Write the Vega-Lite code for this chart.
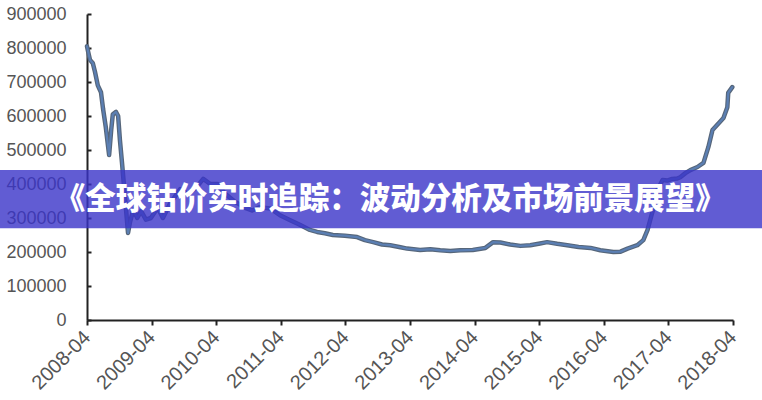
{
  "$schema": "https://vega.github.io/schema/vega-lite/v6.json",
  "width": 646,
  "height": 306,
  "autosize": {"type": "none"},
  "padding": {"left": 87, "top": 14, "right": 29, "bottom": 80},
  "background": "white",
  "config": {
    "view": {"stroke": null},
    "axisX": {
      "title": null,
      "format": "%Y-%m",
      "labelAngle": -45,
      "labelAlign": "right",
      "labelBaseline": "middle",
      "labelFont": "Liberation Sans",
      "labelFontSize": 20,
      "labelColor": "#555555",
      "labelPadding": 9,
      "domainColor": "#222222",
      "domainWidth": 2,
      "tickColor": "#222222",
      "tickWidth": 2,
      "tickSize": 5,
      "grid": false,
      "labelFlush": false,
      "labelOverlap": false
    },
    "axisY": {
      "title": null,
      "format": "d",
      "labelFont": "Liberation Sans",
      "labelFontSize": 18,
      "labelColor": "#555555",
      "labelPadding": 25,
      "labelOverlap": false,
      "domainColor": "#222222",
      "domainWidth": 2,
      "tickColor": "#222222",
      "tickWidth": 2,
      "tickSize": -4,
      "grid": false
    }
  },
  "layer": [
    {
      "data": {"name": "prices", "values": [
        {"date": "2008-04-01", "price": 805000},
        {"date": "2008-04-07", "price": 790000},
        {"date": "2008-04-18", "price": 765000},
        {"date": "2008-05-04", "price": 755000},
        {"date": "2008-05-16", "price": 730000},
        {"date": "2008-06-01", "price": 690000},
        {"date": "2008-06-19", "price": 670000},
        {"date": "2008-07-01", "price": 620000},
        {"date": "2008-07-16", "price": 568000},
        {"date": "2008-08-04", "price": 485000},
        {"date": "2008-08-16", "price": 560000},
        {"date": "2008-08-25", "price": 605000},
        {"date": "2008-09-12", "price": 612000},
        {"date": "2008-09-24", "price": 600000},
        {"date": "2008-10-04", "price": 530000},
        {"date": "2008-10-16", "price": 462000},
        {"date": "2008-11-03", "price": 353000},
        {"date": "2008-11-19", "price": 256000},
        {"date": "2008-12-01", "price": 290000},
        {"date": "2008-12-19", "price": 324000},
        {"date": "2009-01-10", "price": 300000},
        {"date": "2009-02-01", "price": 320000},
        {"date": "2009-02-28", "price": 295000},
        {"date": "2009-03-28", "price": 300000},
        {"date": "2009-05-06", "price": 330000},
        {"date": "2009-06-04", "price": 300000},
        {"date": "2009-07-12", "price": 340000},
        {"date": "2009-09-10", "price": 385000},
        {"date": "2009-10-25", "price": 370000},
        {"date": "2009-12-10", "price": 390000},
        {"date": "2010-01-18", "price": 415000},
        {"date": "2010-02-27", "price": 400000},
        {"date": "2010-04-10", "price": 400000},
        {"date": "2010-05-21", "price": 372000},
        {"date": "2010-07-16", "price": 348000},
        {"date": "2010-09-12", "price": 330000},
        {"date": "2010-10-21", "price": 322000},
        {"date": "2010-12-05", "price": 332000},
        {"date": "2011-02-01", "price": 328000},
        {"date": "2011-03-28", "price": 308000},
        {"date": "2011-05-22", "price": 294000},
        {"date": "2011-07-18", "price": 280000},
        {"date": "2011-09-13", "price": 265000},
        {"date": "2011-10-24", "price": 259000},
        {"date": "2011-12-07", "price": 255000},
        {"date": "2012-01-21", "price": 250000},
        {"date": "2012-03-29", "price": 248000},
        {"date": "2012-06-06", "price": 244000},
        {"date": "2012-07-20", "price": 235000},
        {"date": "2012-09-05", "price": 229000},
        {"date": "2012-10-25", "price": 222000},
        {"date": "2012-12-10", "price": 220000},
        {"date": "2013-02-06", "price": 214000},
        {"date": "2013-03-16", "price": 210000},
        {"date": "2013-05-28", "price": 206000},
        {"date": "2013-07-25", "price": 208000},
        {"date": "2013-09-19", "price": 205000},
        {"date": "2013-11-15", "price": 203000},
        {"date": "2014-01-10", "price": 205000},
        {"date": "2014-03-22", "price": 206000},
        {"date": "2014-06-01", "price": 212000},
        {"date": "2014-07-15", "price": 229000},
        {"date": "2014-08-25", "price": 228000},
        {"date": "2014-10-19", "price": 222000},
        {"date": "2014-12-16", "price": 218000},
        {"date": "2015-02-10", "price": 220000},
        {"date": "2015-04-06", "price": 225000},
        {"date": "2015-05-16", "price": 229000},
        {"date": "2015-07-12", "price": 224000},
        {"date": "2015-09-07", "price": 220000},
        {"date": "2015-11-10", "price": 215000},
        {"date": "2016-01-16", "price": 212000},
        {"date": "2016-03-12", "price": 205000},
        {"date": "2016-05-25", "price": 200000},
        {"date": "2016-07-04", "price": 201000},
        {"date": "2016-08-13", "price": 210000},
        {"date": "2016-10-07", "price": 220000},
        {"date": "2016-11-10", "price": 235000},
        {"date": "2016-12-04", "price": 265000},
        {"date": "2016-12-19", "price": 294000},
        {"date": "2017-01-12", "price": 340000},
        {"date": "2017-01-28", "price": 382000},
        {"date": "2017-02-27", "price": 412000},
        {"date": "2017-03-25", "price": 410000},
        {"date": "2017-04-22", "price": 415000},
        {"date": "2017-05-21", "price": 416000},
        {"date": "2017-06-07", "price": 420000},
        {"date": "2017-07-06", "price": 432000},
        {"date": "2017-08-03", "price": 441000},
        {"date": "2017-09-12", "price": 450000},
        {"date": "2017-10-16", "price": 462000},
        {"date": "2017-11-13", "price": 509000},
        {"date": "2017-12-06", "price": 559000},
        {"date": "2018-01-10", "price": 579000},
        {"date": "2018-02-06", "price": 594000},
        {"date": "2018-02-28", "price": 626000},
        {"date": "2018-03-05", "price": 668000},
        {"date": "2018-03-28", "price": 685000}
      ]},
      "layer": [
        {
          "mark": {"type": "line", "stroke": "#56667a", "strokeWidth": 4.5, "strokeJoin": "round", "strokeCap": "round"},
          "encoding": {
            "x": {
              "field": "date", "type": "temporal",
              "scale": {"domain": ["2008-04-01", "2018-04-01"]},
              "axis": {"values": ["2008-04-01", "2009-04-01", "2010-04-01", "2011-04-01", "2012-04-01", "2013-04-01", "2014-04-01", "2015-04-01", "2016-04-01", "2017-04-01", "2018-04-01"]}
            },
            "y": {
              "field": "price", "type": "quantitative",
              "scale": {"domain": [0, 900000]},
              "axis": {"values": [0, 100000, 200000, 300000, 400000, 500000, 600000, 700000, 800000, 900000]}
            }
          }
        },
        {
          "mark": {"type": "line", "stroke": "#5b7fb3", "strokeWidth": 2.2, "strokeJoin": "round", "strokeCap": "round"},
          "encoding": {
            "x": {"field": "date", "type": "temporal", "axis": {"values": ["2008-04-01", "2009-04-01", "2010-04-01", "2011-04-01", "2012-04-01", "2013-04-01", "2014-04-01", "2015-04-01", "2016-04-01", "2017-04-01", "2018-04-01"]}},
            "y": {"field": "price", "type": "quantitative", "axis": {"values": [0, 100000, 200000, 300000, 400000, 500000, 600000, 700000, 800000, 900000]}}
          }
        }
      ]
    },
    {
      "data": {"values": [{}]},
      "mark": {"type": "rect", "fill": "#3a33c8", "opacity": 0.8},
      "encoding": {
        "x": {"datum": {"year": 2006, "month": 11, "date": 1}, "type": "temporal", "axis": {"values": ["2008-04-01", "2009-04-01", "2010-04-01", "2011-04-01", "2012-04-01", "2013-04-01", "2014-04-01", "2015-04-01", "2016-04-01", "2017-04-01", "2018-04-01"]}},
        "x2": {"datum": {"year": 2018, "month": 11, "date": 1}},
        "y": {"datum": 270000, "type": "quantitative", "axis": {"values": [0, 100000, 200000, 300000, 400000, 500000, 600000, 700000, 800000, 900000]}},
        "y2": {"datum": 441000}
      }
    },
    {
      "data": {"values": [{}]},
      "mark": {"type": "text", "text": "《全球钴价实时追踪：波动分析及市场前景展望》", "font": "Noto Sans CJK SC", "fontSize": 30.5, "fontWeight": 900, "fill": "white", "align": "center", "baseline": "middle"},
      "encoding": {
        "x": {"datum": {"year": 2012, "month": 12, "date": 10}, "type": "temporal", "axis": {"values": ["2008-04-01", "2009-04-01", "2010-04-01", "2011-04-01", "2012-04-01", "2013-04-01", "2014-04-01", "2015-04-01", "2016-04-01", "2017-04-01", "2018-04-01"]}},
        "y": {"datum": 352000, "type": "quantitative", "axis": {"values": [0, 100000, 200000, 300000, 400000, 500000, 600000, 700000, 800000, 900000]}}
      }
    }
  ]
}
